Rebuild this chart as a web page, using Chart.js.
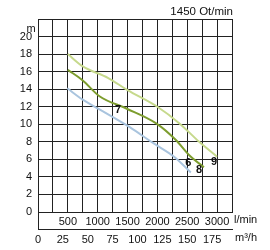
<!DOCTYPE html>
<html>
<head>
<meta charset="utf-8">
<script src="https://cdn.jsdelivr.net/npm/chart.js@4"></script>
<style>
  body { margin: 0; background: #fff; }
  canvas { display: block; }
</style>
</head>
<body>
<canvas id="chart" width="270" height="250"></canvas>
<script>
// pump curves, flow in l/min, head in m
const flow6 = [490, 750, 1030, 1530, 1920, 2280, 2560];
const head6 = [14.1, 12.8, 11.7, 9.7, 7.9, 6.3, 4.5];
const flow8 = [500, 750, 1030, 1480, 1980, 2310, 2530, 2780];
const head8 = [16.2, 15.0, 13.2, 11.8, 10.1, 8.2, 6.5, 5.1];
const flow9 = [500, 750, 1170, 1500, 2000, 2370, 2700, 3000];
const head9 = [18.0, 16.6, 15.3, 13.9, 12.0, 10.1, 8.0, 6.3];

const flowTicks = [0, 250, 500, 750, 1000, 1250, 1500, 1750, 2000, 2250, 2500, 2750, 3000, 3250];
const m3Ticks = [0, 25, 50, 75, 100, 125, 150, 175];
const headTicks = [0, 2, 4, 6, 8, 10, 12, 14, 16, 18, 20, 22];

// curve numbers: [label, flow, head]
const curveLabels = [['7', 1340, 11.6], ['6', 2517, 5.6], ['8', 2700, 4.8], ['9', 2950, 5.7]];

const gridColor = '#222';
const font = { family: "'Liberation Sans', Arial, sans-serif", size: 11 };

function pts(xs, ys) {
  return xs.map((x, i) => ({ x, y: ys[i] }));
}

function curve(xs, ys, color) {
  return {
    data: pts(xs, ys),
    borderColor: color,
    borderWidth: 2,
    pointRadius: 0,
    cubicInterpolationMode: 'monotone',
    xAxisID: 'x',
    yAxisID: 'y'
  };
}

const extras = {
  id: 'extras',
  afterDatasetsDraw(chart) {
    const c = chart.ctx;
    const a = chart.chartArea;
    const x = chart.scales.x;
    const y = chart.scales.y;
    c.save();
    c.fillStyle = '#111';
    c.font = "11.5px 'Liberation Sans', Arial, sans-serif";
    c.textBaseline = 'middle';
    c.textAlign = 'right';
    c.fillText('1450 Ot/min', a.right + 1, 12);
    c.font = "11px 'Liberation Sans', Arial, sans-serif";
    c.textAlign = 'center';
    c.fillText('m', 31, 29);
    c.textAlign = 'left';
    c.fillText('l/min', a.right + 2, 220);
    c.fillText('m³/h', a.right + 3, 238);

    // left edge of the lower axis box
    c.strokeStyle = gridColor;
    c.lineWidth = 1;
    c.beginPath();
    c.moveTo(a.left + 0.5, a.bottom);
    c.lineTo(a.left + 0.5, chart.scales.x2.top + 1);
    c.stroke();

    c.font = "bold 11px 'Liberation Sans', Arial, sans-serif";
    c.textAlign = 'center';
    curveLabels.forEach(([t, fx, hy]) => {
      c.fillText(t, x.getPixelForValue(fx), y.getPixelForValue(hy));
    });
    c.restore();
  }
};

new Chart(document.getElementById('chart'), {
  type: 'line',
  data: {
    datasets: [
      curve(flow9, head9, '#c6d98c'),
      curve(flow8, head8, '#7d9d2e'),
      curve(flow6, head6, '#a9c4de')
    ]
  },
  options: {
    responsive: false,
    animation: false,
    devicePixelRatio: 1,
    layout: { padding: { top: 19, right: 38, left: 0, bottom: 0 } },
    plugins: { legend: { display: false }, tooltip: { enabled: false }, title: { display: false } },
    scales: {
      x: {
        type: 'linear',
        position: 'bottom',
        weight: 0,
        min: 0,
        max: 3250,
        afterBuildTicks: s => { s.ticks = flowTicks.map(v => ({ value: v })); },
        afterFit: s => { s.height = 17; },
        grid: { color: gridColor, lineWidth: 1, drawTicks: false },
        border: { display: true, color: gridColor },
        ticks: {
          autoSkip: false,
          maxRotation: 0,
          padding: 3,
          color: '#111',
          font,
          callback: v => (v > 0 && v <= 3000 && v % 500 === 0) ? v : ''
        }
      },
      x2: {
        type: 'linear',
        position: 'bottom',
        weight: 1,
        min: 0,
        max: 3250 / (1000 / 60),
        afterBuildTicks: s => { s.ticks = m3Ticks.map(v => ({ value: v })); },
        afterFit: s => { s.height = 21; },
        grid: { display: false, drawTicks: false },
        border: { display: true, color: gridColor },
        ticks: { autoSkip: false, maxRotation: 0, padding: 4, color: '#111', font }
      },
      y: {
        type: 'linear',
        min: 0,
        max: 22,
        afterBuildTicks: s => { s.ticks = headTicks.map(v => ({ value: v })); },
        afterFit: s => { s.width = 38; },
        grid: { color: gridColor, lineWidth: 1, drawTicks: false },
        border: { display: true, color: gridColor },
        ticks: {
          padding: 6,
          color: '#111',
          font,
          callback: v => v <= 20 ? v : ''
        }
      }
    }
  },
  plugins: [extras]
});
</script>
</body>
</html>
